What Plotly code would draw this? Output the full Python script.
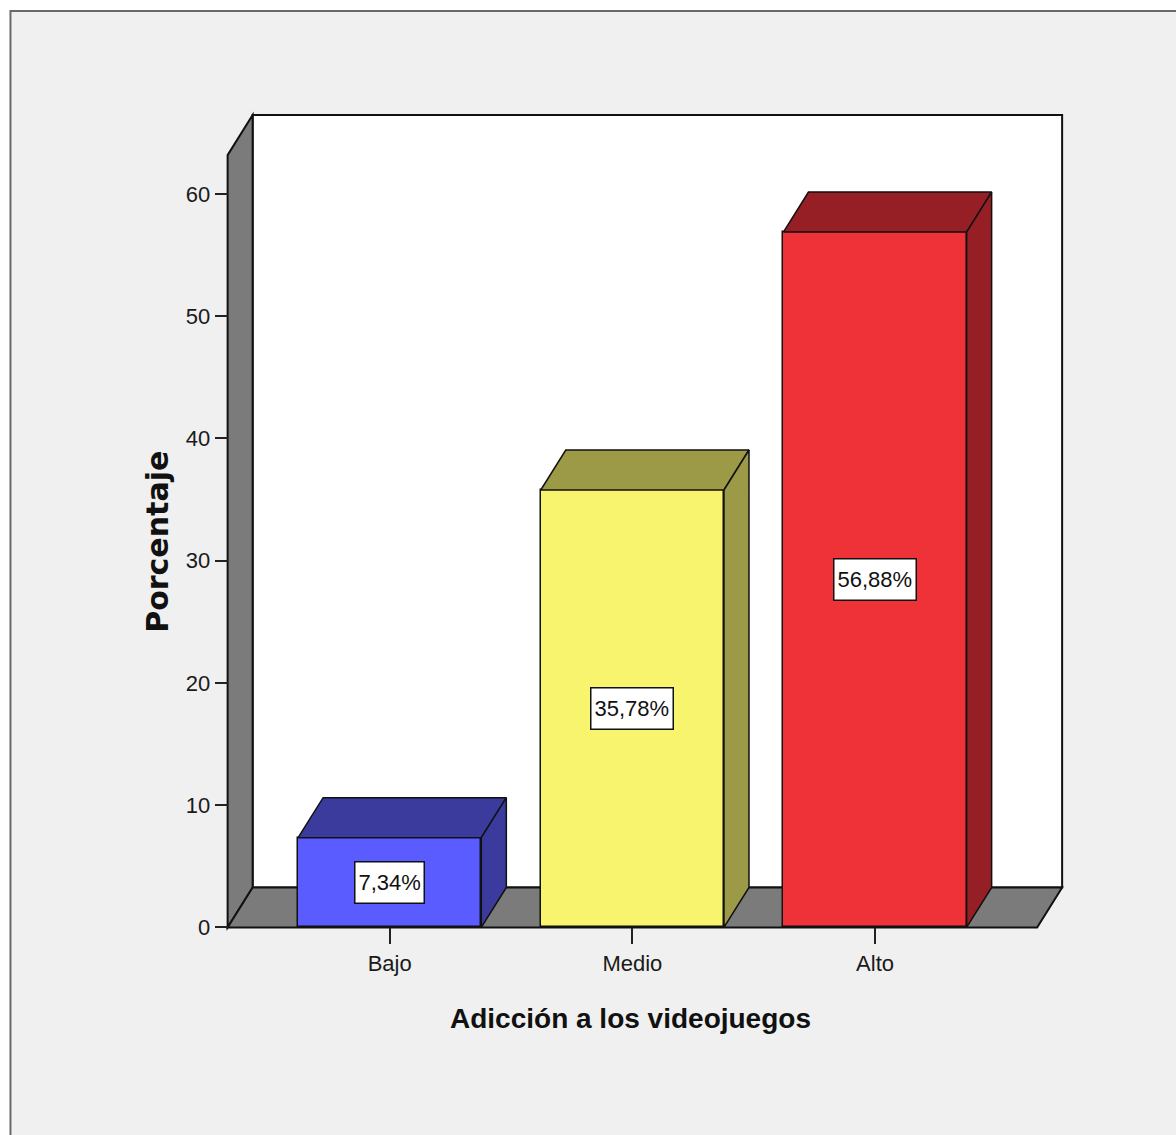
import plotly.graph_objects as go

# ---- data -------------------------------------------------------------
categories = ["Bajo", "Medio", "Alto"]
percentages = [7.34, 35.78, 56.88]
y_ticks = [0, 10, 20, 30, 40, 50, 60]

# ---- styling ----------------------------------------------------------
front_colors = ["#5a5cff", "#f9f46e", "#ef3138"]
shade_colors = ["#3a3b9d", "#9d9a47", "#951f24"]
WALL_GRAY = "#7b7b7b"
EDGE = "#111111"
SANS = "Liberation Sans, Arial, sans-serif"

FIG_W, FIG_H = 1176, 1135
# pixel placement of the data axes
X0_PX, X_UNIT = 390.0, 242.5      # x = 0 at this pixel, pixels per category
Y0_PX, Y_UNIT = 927.0, 12.22      # y = 0 at this pixel, pixels per percent
X_RANGE = (-0.72, 2.82)
Y_RANGE = (-1.6, 67.6)

BAR_W = 0.755
DX = 25 / X_UNIT                  # depth offset of the 3D effect (x units)
DY = 40 / Y_UNIT                  # depth offset of the 3D effect (y units)
AXIS_LEFT, AXIS_RIGHT = -0.668, 2.668
WALL_TOP = (Y0_PX - 115) / Y_UNIT

m_l = X0_PX + X_RANGE[0] * X_UNIT
m_r = FIG_W - (X0_PX + X_RANGE[1] * X_UNIT)
m_t = Y0_PX - Y_RANGE[1] * Y_UNIT
m_b = FIG_H - (Y0_PX - Y_RANGE[0] * Y_UNIT)
plot_w = FIG_W - m_l - m_r
plot_h = FIG_H - m_t - m_b


def paper_x(px):
    return (px - m_l) / plot_w


def paper_y(py):
    return (FIG_H - m_b - py) / plot_h


def poly_path(pts):
    return "M " + " L ".join(f"{x},{y}" for x, y in pts) + " Z"


fig = go.Figure()

# front faces of the bars
fig.add_trace(go.Bar(
    x=list(range(len(categories))),
    y=percentages,
    width=BAR_W,
    marker=dict(color=front_colors, line=dict(color=EDGE, width=1.5)),
    hoverinfo="skip",
    showlegend=False,
))

# top and side faces of each bar
for i, (v, shade) in enumerate(zip(percentages, shade_colors)):
    xl, xr = i - BAR_W / 2, i + BAR_W / 2
    top = [(xl, v), (xl + DX, v + DY), (xr + DX, v + DY), (xr, v), (xl, v)]
    side = [(xr, 0), (xr + DX, DY), (xr + DX, v + DY), (xr, v), (xr, 0)]
    for face in (top, side):
        fig.add_trace(go.Scatter(
            x=[p[0] for p in face], y=[p[1] for p in face],
            mode="lines", fill="toself", fillcolor=shade,
            line=dict(color=EDGE, width=1.5),
            hoverinfo="skip", showlegend=False,
        ))

# value labels in the middle of each bar
for i, v in enumerate(percentages):
    fig.add_annotation(
        x=i, y=v / 2, xref="x", yref="y",
        xanchor="center", yanchor="middle",
        text=f"{v:.2f}%".replace(".", ","),
        showarrow=False, height=34,
        font=dict(family=SANS, size=22, color="#111111"),
        bgcolor="white", bordercolor=EDGE, borderwidth=1.5, borderpad=3,
    )

shapes = [
    # outer frame
    dict(type="rect", xref="paper", yref="paper",
         x0=paper_x(11), x1=paper_x(FIG_W + 20),
         y0=paper_y(FIG_H + 20), y1=paper_y(11),
         fillcolor="#f0f0f0", line=dict(color="#6a6a6a", width=2), layer="below"),
    # back wall
    dict(type="path", xref="x", yref="y", layer="below",
         path=poly_path([(AXIS_LEFT + DX, DY), (AXIS_RIGHT + DX, DY),
                         (AXIS_RIGHT + DX, WALL_TOP), (AXIS_LEFT + DX, WALL_TOP)]),
         fillcolor="white", line=dict(color=EDGE, width=2)),
    # left side wall
    dict(type="path", xref="x", yref="y", layer="below",
         path=poly_path([(AXIS_LEFT, 0), (AXIS_LEFT, WALL_TOP - DY),
                         (AXIS_LEFT + DX, WALL_TOP), (AXIS_LEFT + DX, DY)]),
         fillcolor=WALL_GRAY, line=dict(color=EDGE, width=2)),
    # floor
    dict(type="path", xref="x", yref="y", layer="below",
         path=poly_path([(AXIS_LEFT, 0), (AXIS_RIGHT, 0),
                         (AXIS_RIGHT + DX, DY), (AXIS_LEFT + DX, DY)]),
         fillcolor=WALL_GRAY, line=dict(color=EDGE, width=2)),
]

# axis titles
fig.add_annotation(
    x=paper_x(158), y=paper_y(542), xref="paper", yref="paper",
    xanchor="center", yanchor="middle",
    text="<b>Porcentaje</b>", textangle=-90, showarrow=False,
    font=dict(family="DejaVu Sans, Verdana, sans-serif", size=30, color="#111111"),
)
fig.add_annotation(
    x=paper_x(631), y=paper_y(1018), xref="paper", yref="paper",
    xanchor="center", yanchor="middle",
    text="<b>Adicción a los videojuegos</b>", showarrow=False,
    font=dict(family=SANS, size=28, color="#111111"),
)

fig.update_layout(
    width=FIG_W, height=FIG_H, autosize=False,
    margin=dict(l=m_l, r=m_r, t=m_t, b=m_b, pad=0),
    paper_bgcolor="white", plot_bgcolor="rgba(0,0,0,0)",
    shapes=shapes, showlegend=False, bargap=0,
    xaxis=dict(
        range=list(X_RANGE), tickmode="array",
        tickvals=list(range(len(categories))), ticktext=categories,
        ticks="outside", ticklen=16, tickwidth=2, tickcolor="#222222",
        tickfont=dict(family=SANS, size=22, color="#1a1a1a"),
        showgrid=False, zeroline=False, showline=False,
        anchor="free", position=(0 - Y_RANGE[0]) / (Y_RANGE[1] - Y_RANGE[0]),
        fixedrange=True,
    ),
    yaxis=dict(
        range=list(Y_RANGE), tickmode="array", tickvals=y_ticks,
        ticks="outside", ticklen=13, tickwidth=2, tickcolor="#222222",
        tickfont=dict(family=SANS, size=22, color="#1a1a1a"),
        showgrid=False, zeroline=False, showline=False,
        anchor="free", position=(AXIS_LEFT - X_RANGE[0]) / (X_RANGE[1] - X_RANGE[0]),
        fixedrange=True,
    ),
)

fig.write_html("out.html")
